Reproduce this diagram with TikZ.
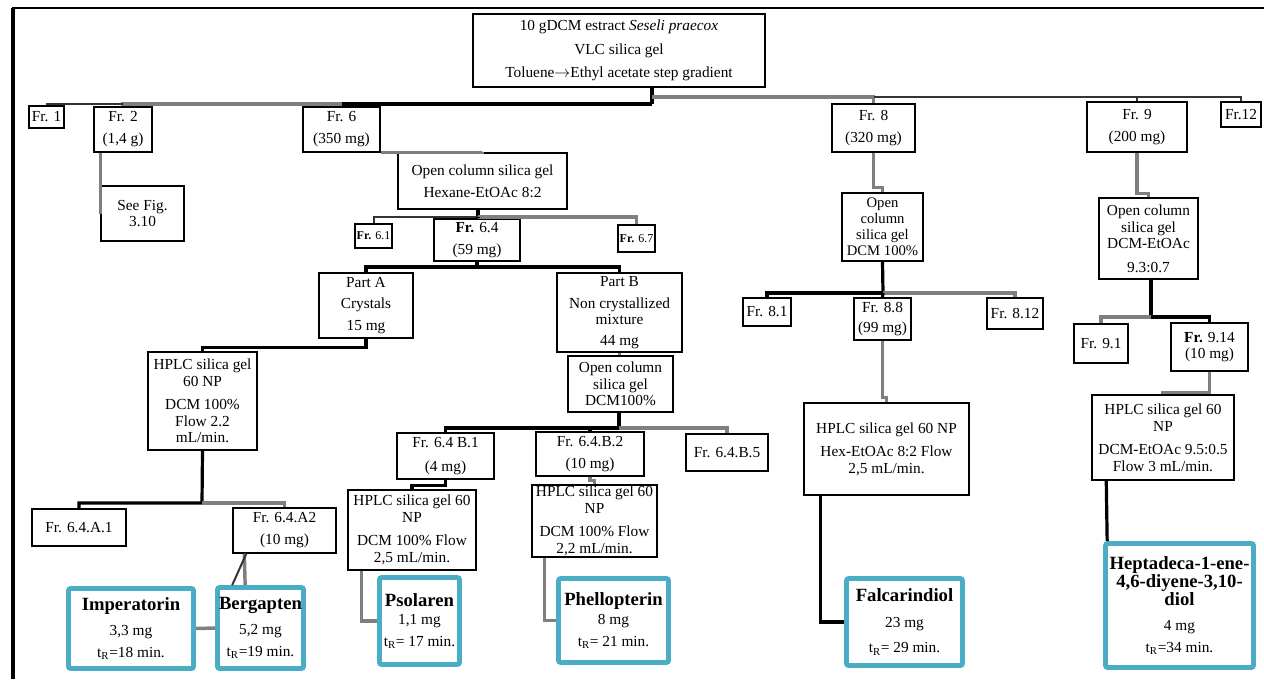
\documentclass[tikz,border=0pt]{standalone}
\usepackage{fontspec}
\setmainfont{Liberation Serif}
\usetikzlibrary{calc}

\definecolor{linegray}{HTML}{7F7F7F}
\definecolor{compblue}{HTML}{4BACC6}
\newcommand{\boxfont}{\fontsize{11.5}{12.5}\selectfont}
\newcommand{\tinyfont}{\fontsize{9}{11}\selectfont}
\newcommand{\cmpd}[1]{{\fontsize{14}{15}\selectfont\bfseries #1}}

\tikzset{
  fbox/.style={draw, line width=1.1pt, align=center, inner sep=0pt, font=\boxfont},
  cbox/.style={draw=compblue, line width=3.5pt, rounded corners=1.5pt, align=center, inner sep=0pt, font=\boxfont},
  sz/.style 2 args={minimum width=#1*0.75pt, minimum height=#2*0.75pt},
  kline/.style={line width=2.4pt},
  gline/.style={line width=2.6pt, draw=linegray},
  tline/.style={line width=1.5pt, draw=black!80},
}

\begin{document}
\begin{tikzpicture}[x=0.75pt, y=-0.75pt]
\useasboundingbox (0,0) rectangle (1264,679);
\draw[line width=3.5pt] (13,679) -- (13,8);
\draw[line width=2pt] (12,8) -- (1264,8);

\node[fbox, sz={292}{73}] (crude) at (619,50.5) {10 gDCM estract \textit{Seseli praecox}\\[5pt]VLC silica gel\\[5pt]Toluene$\to$Ethyl acetate step gradient};

% first fractions
\node[fbox, sz={35}{22}] (fr1) at (46.5,117) {Fr. 1};
\node[fbox, sz={58}{45}] (fr2) at (123,129.5) {Fr. 2\\[4pt](1,4 g)};
\node[fbox, sz={77}{45}] (fr6) at (341.5,129.5) {Fr. 6\\[4pt](350 mg)};
\node[fbox, sz={83}{48}] (fr8) at (873.5,128) {Fr. 8\\[4pt](320 mg)};
\node[fbox, sz={100}{50}] (fr9) at (1137,127) {Fr. 9\\[4pt](200 mg)};
\node[fbox, sz={40}{25}] (fr12) at (1241,114.5) {Fr.12};

\node[fbox, sz={83}{55}] (seefig) at (142.5,213.5) {See Fig.\\3.10};

% fraction 6
\node[fbox, sz={169}{56}] (oc6) at (482.5,181) {Open column silica gel\\[4pt]Hexane-EtOAc 8:2};
\node[fbox, sz={37}{24}, font=\tinyfont] (fr61) at (373.5,236) {\textbf{Fr.} 6.1};
\node[fbox, sz={86}{42}] (fr64) at (477,240) {\textbf{Fr.} 6.4\\[4pt](59 mg)};
\node[fbox, sz={37}{27}, font=\tinyfont] (fr67) at (636.5,238.5) {\textbf{Fr.} 6.7};
\node[fbox, sz={94}{65}] (partA) at (366,305.5) {Part A\\[3.5pt]Crystals\\[3.5pt]15 mg};
\node[fbox, sz={125}{79}] (partB) at (619.5,312.5) {Part B\\[4pt]Non crystallized\\mixture\\[3pt]44 mg};
\node[fbox, sz={109}{98}] (hplcA) at (202.5,401) {HPLC silica gel\\60 NP\\[5pt]DCM 100\%\\Flow 2.2\\mL/min.};
\node[fbox, sz={105}{56}] (ocB) at (620.5,384) {Open column\\silica gel\\DCM100\%};
\node[fbox, sz={97}{46}] (fr64b1) at (445.5,456) {Fr. 6.4 B.1\\[5pt](4 mg)};
\node[fbox, sz={108}{44}] (fr64b2) at (590,454) {Fr. 6.4.B.2\\[4pt](10 mg)};
\node[fbox, sz={82}{37}] (fr64b5) at (727,452.5) {Fr. 6.4.B.5};
\node[fbox, sz={128}{80}] (hplcB1) at (412,530) {HPLC silica gel 60\\NP\\[5pt]DCM 100\% Flow\\2,5 mL/min.};
\node[fbox, sz={125}{72}] (hplcB2) at (594.5,521) {HPLC silica gel 60\\NP\\[5pt]DCM 100\% Flow\\2,2 mL/min.};
\node[fbox, sz={94}{37}] (fr64a1) at (79,527.5) {Fr. 6.4.A.1};
\node[fbox, sz={103}{45}] (fr64a2) at (284.5,530.5) {Fr. 6.4.A2\\[4pt](10 mg)};

\node[cbox, sz={125}{80}] (imp) at (131,628.5) {\cmpd{Imperatorin}\\[6pt]3,3 mg\\[4pt]t\textsubscript{R}=18 min.};
\node[cbox, sz={86}{81}] (berg) at (260.5,628) {\cmpd{Bergapten}\\[6pt]5,2 mg\\[4pt]t\textsubscript{R}=19 min.};
\node[cbox, sz={80}{87}] (psol) at (419.5,621) {\cmpd{Psolaren}\\[1pt]1,1 mg\\[4pt]t\textsubscript{R}= 17 min.};
\node[cbox, sz={110}{84}] (phel) at (613.5,620.5) {\cmpd{Phellopterin}\\[2pt]8 mg\\[4pt]t\textsubscript{R}= 21 min.};

% fraction 8
\node[fbox, sz={81}{68}, font=\fontsize{11}{12}\selectfont] (oc8) at (882.5,227) {Open\\column\\silica gel\\DCM 100\%};
\node[fbox, sz={48}{28}] (fr81) at (767,312) {Fr. 8.1};
\node[fbox, sz={57}{42}] (fr88) at (882.5,319) {Fr. 8.8\\[3pt](99 mg)};
\node[fbox, sz={56}{31}] (fr812) at (1015,313.5) {Fr. 8.12};
\node[fbox, sz={165}{92}] (hplc8) at (886.5,449) {HPLC silica gel 60 NP\\[5pt]Hex-EtOAc 8:2 Flow\\2,5 mL/min.};
\node[cbox, sz={116}{87}] (falc) at (904.5,622) {\cmpd{Falcarindiol}\\[7pt]23 mg\\[6pt]t\textsubscript{R}= 29 min.};

% fraction 9
\node[fbox, sz={99}{81}] (oc9) at (1148.5,238.5) {Open column\\silica gel\\DCM-EtOAc\\[5pt]9.3:0.7};
\node[fbox, sz={54}{39}] (fr91) at (1101,343.5) {Fr. 9.1};
\node[fbox, sz={77}{48}] (fr914) at (1209.5,347) {\textbf{Fr.} 9.14\\(10 mg)};
\node[fbox, sz={142}{85}] (hplc9) at (1163,437.5) {HPLC silica gel 60\\NP\\[5pt]DCM-EtOAc 9.5:0.5\\Flow 3 mL/min.};
\node[cbox, sz={148}{124}] (hept) at (1179.5,605.5) {\cmpd{Heptadeca-1-ene-}\\\cmpd{4,6-diyene-3,10-}\\\cmpd{diol}\\[6pt]4 mg\\[4pt]t\textsubscript{R}=34 min.};

% main line
\coordinate (hub) at (652,104);
\coordinate (rbus) at (652,97);
\draw[kline] (crude.south -| hub) -- (hub);
\draw[kline] (hub) -| (fr6.north);
\draw[gline] (fr6.north |- hub) -| (fr2.north);
\draw[tline] (fr2.north |- hub) -| (fr1.north);
\draw[gline] (rbus) -| (fr8.north);
\draw[tline] (fr8.north |- rbus) -| (fr9.north);
\draw[tline] (fr9.north |- rbus) -| (fr12.north);

\draw[gline] (seefig.west |- fr2.south) -- (seefig.west);

\draw[gline] (fr6.south east) -| (oc6.north);
\coordinate (b6) at (478,217);
\draw[kline] (oc6.south -| b6) -- (b6);
\draw[tline] (b6) -| (fr61.north);
\draw[gline] (b6) -| (fr67.north);
\draw[kline] (b6) -- (fr64.north -| b6);
\coordinate (b64) at (477,267);
\draw[kline] (fr64.south) -- (b64) -| (partA.north);
\draw[kline] (b64) -| (partB.north);
\draw[kline] (partA.south) -- ++(0,9) -| (hplcA.north);
\draw[gline] (partB.south) -- (partB.south |- ocB.north);
\coordinate (bB) at (619,428);
\draw[kline] (ocB.south -| bB) -- (bB);
\draw[kline] (bB) -| (fr64b1.north);
\draw[kline] (bB) -| (fr64b2.north);
\draw[gline] (bB) -| (fr64b5.north);
\draw[kline] (fr64b1.south) -- ++(0,6) -| (hplcB1.north);
\draw[gline] (fr64b2.south) -- ++(0,4) -| (hplcB2.north);
\draw[gline] ($(hplcB1.south west)+(14,0)$) |- (psol.west);
\draw[gline] ($(hplcB2.south west)+(13,0)$) |- (phel.west);
\coordinate (bA) at (202,503);
\draw[kline] (hplcA.south) -- (bA) -| (fr64a1.north);
\draw[gline] (bA) -| (fr64a2.north);
\draw[gline] ($(fr64a2.south west)+(12,0)$) -- ($(berg.north west)+(30,0)$);
\draw[tline] ($(fr64a2.south west)+(14,0)$) -- ($(berg.north west)+(17,0)$);
\draw[gline] (imp.east) -- (berg.west);

\draw[gline] (fr8.south) -- ++(0,35) -| (oc8.north);
\coordinate (b8) at (883,293);
\draw[kline] (oc8.south) -- (b8);
\draw[kline] (b8) -| (fr81.north);
\draw[gline] (b8) -| (fr812.north);
\draw[kline] (b8) -- (fr88.north);
\draw[gline] (fr88.south) -- ++(0,57) -| (hplc8.north);
\draw[kline] ($(hplc8.south west)+(17,0)$) |- (falc.west);

\draw[gline] (fr9.south) -- ++(0,41) -| (oc9.north);
\coordinate (b9) at (1151,317);
\draw[kline] (oc9.south -| b9) -- (b9);
\draw[gline] (b9) -| (fr91.north);
\draw[kline] (b9) -| (fr914.north);
\draw[gline] (fr914.south) -- ++(0,21) -| (hplc9.north);
\draw[kline] ($(hplc9.south west)+(15,0)$) -- ($(hept.north west)+(4,0)$);
\end{tikzpicture}
\end{document}
